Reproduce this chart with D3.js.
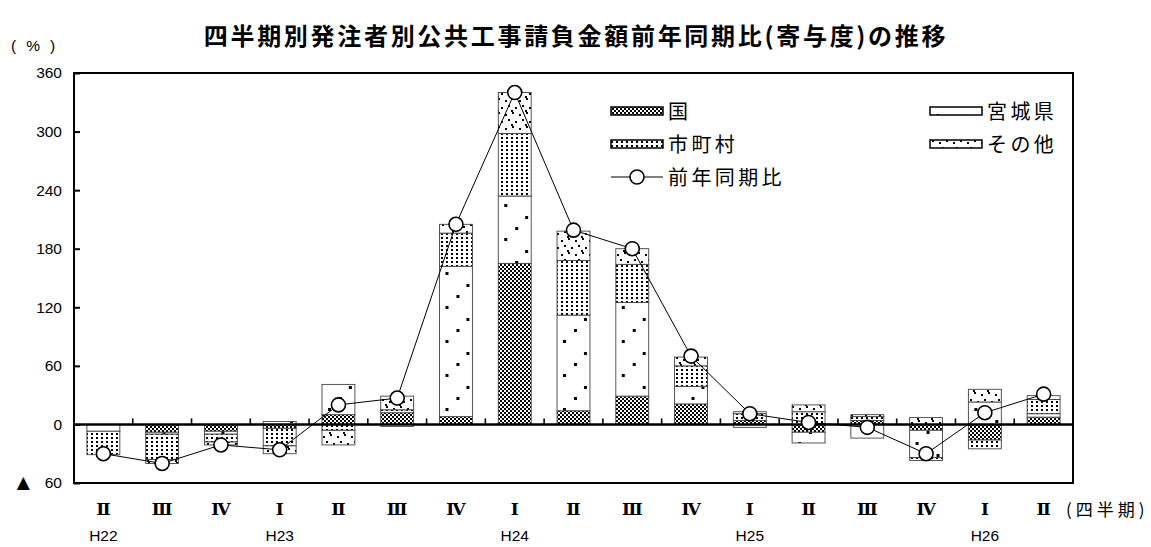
<!DOCTYPE html>
<html>
<head>
<meta charset="utf-8">
<script src="https://cdn.jsdelivr.net/npm/d3@7"></script>
<style>
  body { margin: 0; background: #fff; }
  svg { display: block; }
</style>
</head>
<body>
<svg id="chart" width="1151" height="547"></svg>
<script>
// ---- data -------------------------------------------------------------
const periods = ["H22Ⅱ","H22Ⅲ","H22Ⅳ","H23Ⅰ","H23Ⅱ","H23Ⅲ","H23Ⅳ","H24Ⅰ","H24Ⅱ","H24Ⅲ","H24Ⅳ","H25Ⅰ","H25Ⅱ","H25Ⅲ","H25Ⅳ","H26Ⅰ","H26Ⅱ"];
const quarterLabels = ["Ⅱ","Ⅲ","Ⅳ","Ⅰ","Ⅱ","Ⅲ","Ⅳ","Ⅰ","Ⅱ","Ⅲ","Ⅳ","Ⅰ","Ⅱ","Ⅲ","Ⅳ","Ⅰ","Ⅱ"];
const yearLabels = ["H22","","","H23","","","","H24","","","","H25","","","","H26",""];

// contribution (percentage points) by ordering body
const kuni      = [0, -8, -7, -4, 10, 12, 8, 165, 14, 29, 21, 4, -8, 4, -6, -16, 7.5];
const miyagi    = [-7, -2, -3, 3, 31, -2, 154, 69, 98, 96, 18, -3, -11, -14, -28, 23, 3.5];
const shichoson = [-24, -26, -8, -18, -6, 3, 34, 64, 56, 39, 21, 7, 13, 4, -3, -9, 14.5];
const sonota    = [0, -4, -3, -8, -15, 14, 9, 42, 30, 16, 9, 2, 7, 2, 7, 13, 4];
// year-on-year change of the total (%)
const yoy       = [-30, -40, -21, -26, 20, 27, 205, 340, 199, 180, 70, 11, 2, -3, -30, 12, 31];

const seriesNames = ["国", "宮城県", "市町村", "その他"];
const lineName = "前年同期比";
const yTicks = [-60, 0, 60, 120, 180, 240, 300, 360];

const titleText = "四半期別発注者別公共工事請負金額前年同期比(寄与度)の推移";

// ---- layout -----------------------------------------------------------
const svg = d3.select("#chart");
const plot = { left: 74, right: 1073, top: 73, bottom: 483 };
const JP = "'Noto Sans CJK JP', 'Noto Sans', sans-serif";
const LAT = "'Liberation Sans', Arial, sans-serif";
const ROMAN = "'DejaVu Serif', 'Liberation Serif', serif";

const x = d3.scaleBand()
  .domain(periods)
  .range([plot.left, plot.right])
  .paddingInner(0.44)
  .paddingOuter(0.22);
const y = d3.scaleLinear().domain([-60, 360]).range([plot.bottom, plot.top]);
const cx = p => x(p) + x.bandwidth() / 2;

// ---- fill patterns ----------------------------------------------------
const defs = svg.append("defs");
function pattern(id, w, h, dots, originX) {
  const p = defs.append("pattern")
    .attr("id", id)
    .attr("patternUnits", "userSpaceOnUse")
    .attr("width", w).attr("height", h)
    .attr("x", originX || 0);
  p.append("rect").attr("width", w).attr("height", h).attr("fill", "#fff");
  dots.forEach(([dx, dy, s]) => {
    p.append("rect").attr("x", dx).attr("y", dy)
      .attr("width", s || 2).attr("height", s || 2)
      .attr("fill", "#000").attr("shape-rendering", "crispEdges");
  });
}
// 国: checkerboard
pattern("pat-kuni", 4, 4, [[0, 0, 2], [2, 2, 2]]);
// 宮城県: white with sparse dots
pattern("pat-miyagi", x.step(), 34, [[6, 0, 2.5], [27, 12, 2.5], [17, 23, 2.5]], x(periods[0]));
// 市町村: dense dot grid
pattern("pat-shichoson", 5, 4, [[1, 1, 2]]);
// その他: scattered dots
pattern("pat-sonota", 14, 14, [[1, 2], [8, 0], [4, 7], [11, 9], [7, 12]]);

const fills = ["url(#pat-kuni)", "url(#pat-miyagi)", "url(#pat-shichoson)", "url(#pat-sonota)"];

// ---- stacked bars (positives stack up, negatives down) ---------------
const rows = periods.map((p, i) => ({
  period: p,
  "国": kuni[i], "宮城県": miyagi[i], "市町村": shichoson[i], "その他": sonota[i]
}));
const stacked = d3.stack()
  .keys(seriesNames)
  .order(d3.stackOrderNone)
  .offset(d3.stackOffsetDiverging)(rows);

const barsG = svg.append("g");
stacked.forEach((layer, k) => {
  barsG.append("g")
    .selectAll("rect")
    .data(layer.filter(d => d[1] !== d[0]))
    .join("rect")
    .attr("x", d => x(d.data.period))
    .attr("width", x.bandwidth())
    .attr("y", d => y(Math.max(d[0], d[1])))
    .attr("height", d => Math.abs(y(d[0]) - y(d[1])))
    .attr("fill", fills[k])
    .attr("stroke", "#444")
    .attr("stroke-width", 0.9);
});

// ---- axes ---------------------------------------------------------------
const yAxis = d3.axisLeft(y)
  .tickValues(yTicks)
  .tickSizeInner(-6)
  .tickSizeOuter(0)
  .tickPadding(12)
  .tickFormat(d => d < 0 ? String(Math.abs(d)) : d);
const yg = svg.append("g").attr("transform", `translate(${plot.left},0)`).call(yAxis);
yg.select(".domain").remove();
yg.selectAll(".tick line").attr("stroke", "#000").attr("stroke-width", 2);
yg.selectAll(".tick text")
  .attr("font-family", LAT)
  .attr("font-size", 15.5)
  .attr("fill", "#000");
// negative values are written with a leading triangle
yg.selectAll(".tick text")
  .filter(d => d < 0)
  .each(function(d) {
    const t = d3.select(this).text(null);
    t.append("tspan").attr("font-family", "'DejaVu Sans', sans-serif").attr("font-size", 17).text("▲");
    t.append("tspan").attr("dx", 15).text(Math.abs(d));
  });

// zero line with category boundary ticks
const zeroG = svg.append("g");
zeroG.append("line")
  .attr("x1", plot.left).attr("x2", plot.right)
  .attr("y1", y(0)).attr("y2", y(0))
  .attr("stroke", "#000").attr("stroke-width", 2.6);
const boundaries = periods.slice(1).map(p => x(p) - x.step() * x.paddingInner() / 2);
zeroG.selectAll("line.b")
  .data(boundaries)
  .join("line")
  .attr("class", "b")
  .attr("x1", d => d).attr("x2", d => d)
  .attr("y1", y(0)).attr("y2", y(0) - 6)
  .attr("stroke", "#000").attr("stroke-width", 1.6);

// plot frame
svg.append("rect")
  .attr("x", plot.left).attr("y", plot.top)
  .attr("width", plot.right - plot.left)
  .attr("height", plot.bottom - plot.top)
  .attr("fill", "none")
  .attr("stroke", "#000")
  .attr("stroke-width", 2);

// ---- year-on-year line ----------------------------------------------------
const line = d3.line().x((d, i) => cx(periods[i])).y(d => y(d));
svg.append("path")
  .datum(yoy)
  .attr("d", line)
  .attr("fill", "none")
  .attr("stroke", "#000")
  .attr("stroke-width", 1);
svg.append("g")
  .selectAll("circle")
  .data(yoy)
  .join("circle")
  .attr("cx", (d, i) => cx(periods[i]))
  .attr("cy", d => y(d))
  .attr("r", 7)
  .attr("fill", "#fff")
  .attr("stroke", "#000")
  .attr("stroke-width", 1.6);

// ---- category labels --------------------------------------------------------
svg.append("g")
  .selectAll("text")
  .data(periods)
  .join("text")
  .attr("x", d => cx(d))
  .attr("y", 515)
  .attr("text-anchor", "middle")
  .attr("font-family", ROMAN)
  .attr("font-weight", "bold")
  .attr("font-size", 17)
  .text((d, i) => quarterLabels[i]);
svg.append("g")
  .selectAll("text")
  .data(periods)
  .join("text")
  .attr("x", d => cx(d))
  .attr("y", 541)
  .attr("text-anchor", "middle")
  .attr("font-family", LAT)
  .attr("font-size", 15.5)
  .text((d, i) => yearLabels[i]);

svg.append("text")
  .attr("x", 1066).attr("y", 516)
  .attr("font-family", JP)
  .attr("font-size", 17)
  .attr("letter-spacing", 4)
  .text("(四半期)");
svg.append("text")
  .attr("x", 11).attr("y", 51)
  .attr("font-family", LAT)
  .attr("font-size", 15.5)
  .attr("letter-spacing", 10)
  .text("(%)");

// ---- title -------------------------------------------------------------------
svg.append("text")
  .attr("x", 576).attr("y", 45)
  .attr("text-anchor", "middle")
  .attr("font-family", JP)
  .attr("font-weight", "bold")
  .attr("font-size", 24)
  .attr("letter-spacing", 2.7)
  .text(titleText);

// ---- legend --------------------------------------------------------------------
const legend = svg.append("g");
const legendItems = [
  { name: seriesNames[0], fill: fills[0], x: 611, y: 107 },
  { name: seriesNames[1], fill: fills[1], x: 930, y: 107 },
  { name: seriesNames[2], fill: fills[2], x: 611, y: 140 },
  { name: seriesNames[3], fill: fills[3], x: 930, y: 140 }
];
legendItems.forEach(it => {
  legend.append("rect")
    .attr("x", it.x).attr("y", it.y)
    .attr("width", 52).attr("height", 8)
    .attr("fill", it.fill)
    .attr("stroke", "#000").attr("stroke-width", 1.5);
  legend.append("text")
    .attr("x", it.x + 57).attr("y", it.y + 12)
    .attr("font-family", JP)
    .attr("font-size", 20)
    .attr("letter-spacing", 3.4)
    .text(it.name);
});
legend.append("line")
  .attr("x1", 611).attr("x2", 663)
  .attr("y1", 177).attr("y2", 177)
  .attr("stroke", "#000").attr("stroke-width", 1.2);
legend.append("circle")
  .attr("cx", 637).attr("cy", 177).attr("r", 7)
  .attr("fill", "#fff").attr("stroke", "#000").attr("stroke-width", 1.6);
legend.append("text")
  .attr("x", 668).attr("y", 185)
  .attr("font-family", JP)
  .attr("font-size", 20)
  .attr("letter-spacing", 3.4)
  .text(lineName);
</script>
</body>
</html>
